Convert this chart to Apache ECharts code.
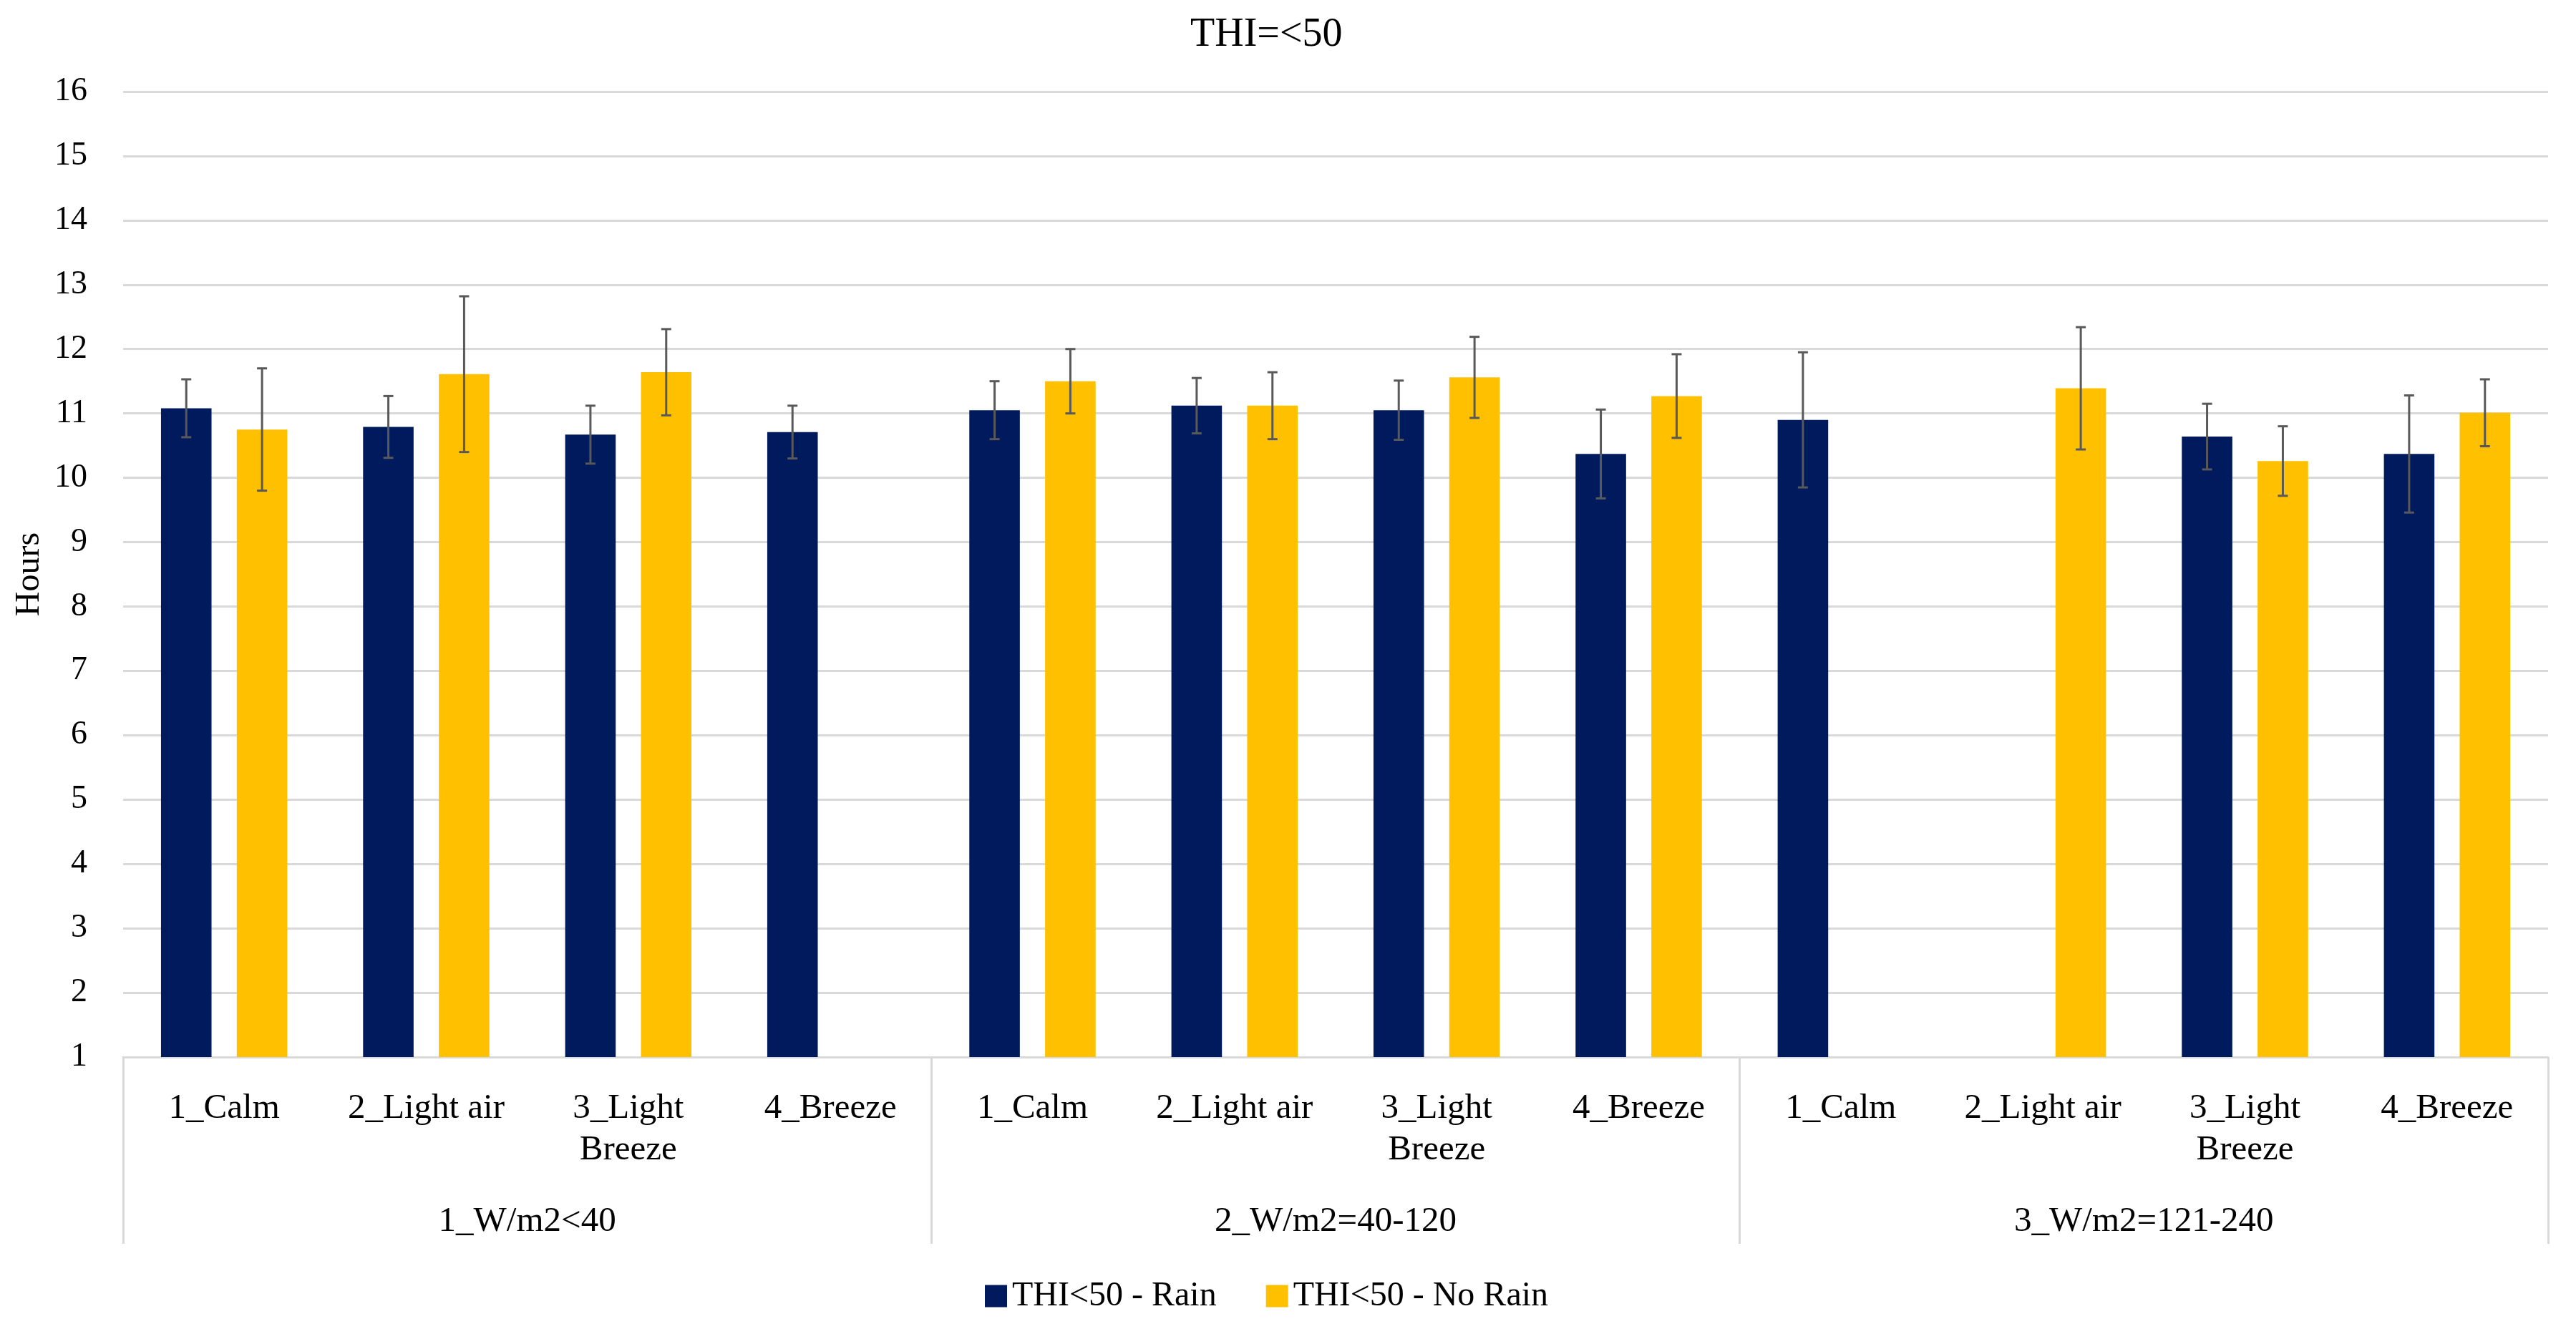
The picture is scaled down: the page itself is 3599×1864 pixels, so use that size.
<!DOCTYPE html>
<html>
<head>
<meta charset="utf-8">
<script src="https://cdn.jsdelivr.net/npm/echarts@6/dist/echarts.min.js"></script>
<style>html,body{margin:0;padding:0;background:#fff;}#c{width:3599px;height:1864px;}</style>
</head>
<body>
<div id="c"></div>
<script>
const categories = ['1_Calm','2_Light air','3_Light Breeze','4_Breeze','1_Calm','2_Light air','3_Light Breeze','4_Breeze','1_Calm','2_Light air','3_Light Breeze','4_Breeze'];
const groups = ['1_W/m2<40','2_W/m2=40-120','3_W/m2=121-240'];
const rainValues = [11.08, 10.79, 10.67, 10.71, 11.05, 11.12, 11.05, 10.37, 10.90, null, 10.64, 10.37];
const rainErr = [0.45, 0.48, 0.45, 0.41, 0.45, 0.43, 0.46, 0.69, 1.05, null, 0.51, 0.91];
const noRainValues = [10.75, 11.61, 11.64, null, 11.50, 11.12, 11.56, 11.27, null, 11.39, 10.26, 11.01];
const noRainErr = [0.95, 1.21, 0.67, null, 0.50, 0.52, 0.63, 0.65, null, 0.95, 0.54, 0.52];
const seriesNames = ['THI<50 - Rain', 'THI<50 - No Rain'];
const yTicks = [1,2,3,4,5,6,7,8,9,10,11,12,13,14,15,16];

const FONT = 'Liberation Serif';
const NAVY = '#001a5e';
const GOLD = '#ffc000';
const ERRC = '#595959';
const GRIDC = '#d9d9d9';

function errData(vals, errs) {
  const out = [];
  vals.forEach((v, i) => { if (v != null && errs[i] != null) out.push([i, v - errs[i], v + errs[i]]); });
  return out;
}

function makeErrRender(sign) {
  return function (params, api) {
    const i = api.value(0);
    const lo = api.coord([i, api.value(1)]);
    const hi = api.coord([i, api.value(2)]);
    const band = api.size([1, 0])[0];
    const x = lo[0] + sign * band * 0.1875;
    const cap = 7;
    const style = { stroke: ERRC, lineWidth: 3 };
    return {
      type: 'group',
      children: [
        { type: 'line', shape: { x1: x, y1: hi[1], x2: x, y2: lo[1] }, style },
        { type: 'line', shape: { x1: x - cap, y1: hi[1], x2: x + cap, y2: hi[1] }, style },
        { type: 'line', shape: { x1: x - cap, y1: lo[1], x2: x + cap, y2: lo[1] }, style }
      ]
    };
  };
}

const chart = echarts.init(document.getElementById('c'));
chart.setOption({
  backgroundColor: '#fff',
  animation: false,
  textStyle: { fontFamily: FONT, color: '#000' },
  title: {
    text: 'THI=<50',
    left: 1658, top: 16,
    textStyle: { fontFamily: FONT, fontSize: 56, fontWeight: 'normal', color: '#000' }
  },
  legend: {
    data: seriesNames,
    left: 1371, top: 1782,
    icon: 'rect', itemWidth: 31, itemHeight: 31, itemGap: 69,
    textStyle: { fontFamily: FONT, fontSize: 48, color: '#000', padding: [0, 0, 0, 2] }
  },
  grid: { left: 172, right: 39, top: 128, bottom: 387, containLabel: false },
  xAxis: [
    {
      type: 'category', position: 'bottom', data: categories,
      axisLine: { show: true, lineStyle: { color: GRIDC, width: 3 } },
      axisTick: { show: false },
      axisLabel: {
        interval: 0, margin: 43, verticalAlign: 'top',
        fontFamily: FONT, fontSize: 49, lineHeight: 58, color: '#000',
        formatter: v => v === '3_Light Breeze' ? '3_Light\nBreeze' : v
      }
    },
    {
      type: 'category', position: 'bottom', data: groups,
      axisLine: { show: false },
      axisTick: { show: true, length: 261, lineStyle: { color: GRIDC, width: 3 } },
      axisLabel: {
        interval: 0, margin: 230, verticalAlign: 'middle',
        fontFamily: FONT, fontSize: 49, color: '#000'
      }
    }
  ],
  yAxis: {
    type: 'value', min: yTicks[0], max: yTicks[yTicks.length - 1], interval: 1,
    name: 'Hours', nameLocation: 'middle', nameGap: 105,
    nameTextStyle: { fontFamily: FONT, fontSize: 48, color: '#000' },
    axisLine: { show: false }, axisTick: { show: false },
    axisLabel: { margin: 50, fontFamily: FONT, fontSize: 46, color: '#000' },
    splitLine: { show: true, lineStyle: { color: GRIDC, width: 3 } }
  },
  series: [
    {
      name: seriesNames[0], type: 'bar', xAxisIndex: 0, data: rainValues,
      barWidth: '25%', barGap: '50%', itemStyle: { color: NAVY }
    },
    {
      name: seriesNames[1], type: 'bar', xAxisIndex: 0, data: noRainValues,
      barWidth: '25%', barGap: '50%', itemStyle: { color: GOLD }
    },
    {
      type: 'custom', xAxisIndex: 0, data: errData(rainValues, rainErr),
      encode: { x: 0, y: [1, 2] }, renderItem: makeErrRender(-1), z: 5, silent: true
    },
    {
      type: 'custom', xAxisIndex: 0, data: errData(noRainValues, noRainErr),
      encode: { x: 0, y: [1, 2] }, renderItem: makeErrRender(1), z: 5, silent: true
    }
  ]
});
</script>
</body>
</html>
